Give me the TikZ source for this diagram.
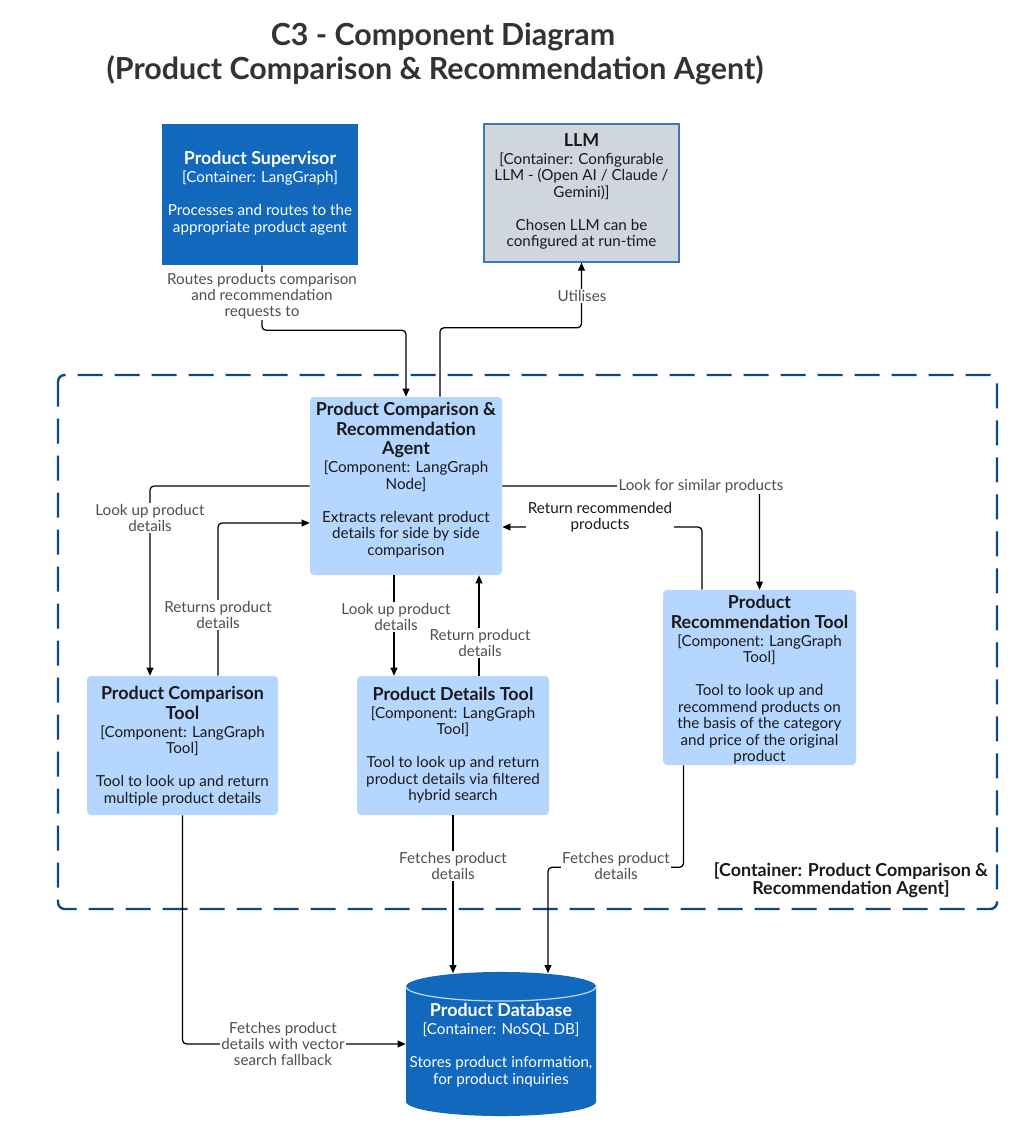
\documentclass[tikz,border=0pt]{standalone}
\usepackage{fontspec}
\setmainfont{Lato}
\usetikzlibrary{arrows.meta,calc,fit}
\definecolor{c4blue}{HTML}{1168BD}
\definecolor{c4light}{HTML}{B4D6FF}
\definecolor{llmgrey}{HTML}{CFD6DE}
\definecolor{llmedge}{HTML}{3C78B8}
\definecolor{bnd}{HTML}{0B4884}
\definecolor{lblgrey}{HTML}{4F4F4F}
\definecolor{txtdark}{HTML}{1A1A1A}
\definecolor{titlegrey}{HTML}{333333}
\newcommand\nm[1]{{\fontsize{13.4}{14.6}\selectfont\bfseries #1}}
\begin{document}
\begin{tikzpicture}[x=0.75pt,y=-0.75pt,
  boxsup/.style={fill=c4blue, inner sep=0pt},
  boxllm/.style={fill=llmgrey, draw=llmedge, line width=0.8pt, inner sep=0pt},
  boxcomp/.style={fill=c4light, rounded corners=3pt, inner sep=0pt},
  txt/.style={align=center, inner sep=0pt, font=\fontsize{11.4}{12.4}\selectfont, text=txtdark},
  txtw/.style={txt, text=white},
  lbl/.style={align=center, inner sep=1pt, fill=white, text=lblgrey, font=\fontsize{11.4}{12}\selectfont},
  conn/.style={draw=black, line width=0.95pt, rounded corners=3pt, -{Triangle[length=6pt,width=5pt]}},
  boundary/.style={draw=bnd, line width=1.8pt, dash pattern=on 18.75pt off 9pt, rounded corners=5pt},
  ttl/.style={inner sep=0pt, text=titlegrey, font=\fontsize{22.8}{26}\selectfont\bfseries}
]
\useasboundingbox (0,0) rectangle (1027,1124);
\fill[white] (0,0) rectangle (1027,1124);

% title
\node[ttl] (t1) at (443,37) {C3 - Component Diagram};
\node[ttl] (t2) at (435,70) {(Product Comparison \& Recommendation Agent)};

% boundary
\draw[boundary] (58,375) rectangle (997,909);
\node[align=center, inner sep=0pt, text=txtdark, font=\fontsize{13.4}{13.5}\selectfont\bfseries] (bl) at (851,880)
  {[Container: Product Comparison \&\\ Recommendation Agent]};

% boxes
\node[boxsup, fit={(162,124)(358,265)}] (sup) {};
\node[boxllm, fit={(484,124)(679,262)}] (llm) {};
\node[boxcomp, fit={(310,397)(502,575)}] (agent) {};
\node[boxcomp, fit={(87,676)(278,815)}] (comp) {};
\node[boxcomp, fit={(357,676)(549,815)}] (details) {};
\node[boxcomp, fit={(663,590)(856,765)}] (rec) {};
\node[inner sep=0pt, fit={(406,972)(596,1116)}] (db) {};

% cylinder
\fill[c4blue] (406,986.5) -- (406,1101.5) arc[start angle=180,end angle=360,x radius=71.25pt,y radius=10.9pt]
  -- (596,986.5) arc[start angle=0,end angle=180,x radius=71.25pt,y radius=10.9pt] -- cycle;
\draw[white!75!c4blue, line width=0.9pt] (406,986.5) arc[start angle=180,end angle=360,x radius=71.25pt,y radius=10.9pt];

% box texts
\node[txtw] (supt) at (260,193) {\nm{Product Supervisor}\\[1.1pt] [Container: LangGraph]\\[12.4pt] Processes and routes to the\\ appropriate product agent};
\node[txt] (llmt) at (581.5,191.5) {\nm{LLM}\\[1.1pt] [Container: Configurable\\ LLM - (Open AI / Claude /\\ Gemini)]\\[12.4pt] Chosen LLM can be\\ configured at run-time};
\node[txt] (agentt) at (406,480) {\nm{Product Comparison \&}\\[2.2pt] \nm{Recommendation}\\[2.2pt] \nm{Agent}\\[1.1pt] [Component: LangGraph\\ Node]\\[12.4pt] Extracts relevant product\\ details for side by side\\ comparison};
\node[txt] (compt) at (182.5,746) {\nm{Product Comparison}\\[2.2pt] \nm{Tool}\\[1.1pt] [Component: LangGraph\\ Tool]\\[12.4pt] Tool to look up and return\\ multiple product details};
\node[txt] (detailst) at (453,745) {\nm{Product Details Tool}\\[1.1pt] [Component: LangGraph\\ Tool]\\[12.4pt] Tool to look up and return\\ product details via filtered\\ hybrid search};
\node[txt] (rect) at (759.5,680) {\nm{Product}\\[2.2pt] \nm{Recommendation Tool}\\[1.1pt] [Component: LangGraph\\ Tool]\\[12.4pt] Tool to look up and\\ recommend products on\\ the basis of the category\\ and price of the original\\ product};
\node[txtw] (dbt) at (501,1045) {\nm{Product Database}\\[1.1pt] [Container: NoSQL DB]\\[12.4pt] Stores product information,\\ for product inquiries};

% connectors
\draw[conn] (sup.south) ++(2,0) coordinate (s1) -- ($(s1)+(0,65)$) -| (agent.north);
\draw[conn] (agent.north) ++(34,0) coordinate (g1) -- ($(g1)+(0,-69)$) -| (llm.south);
\draw[conn] (agent.west) -| ($(comp.north)+(-32.5,0)$);
\draw[conn] ($(comp.north)+(35.5,0)$) |- ($(agent.west)+(0,37)$);
\draw[conn] ($(agent.south)+(-12,0)$) coordinate (d1) -- (d1 |- details.north);
\draw[conn] ($(details.north)+(26,0)$) coordinate (d2) -- (d2 |- agent.south);
\draw[conn] (agent.east) -| (rec.north);
\draw[conn] ($(rec.north)+(-57.5,0)$) |- ($(agent.east)+(0,41)$);
\draw[conn] (details.south) -- ($(details.south |- db.north)+(0,1.5)$);
\draw[conn] ($(rec.south)+(-76,0)$) coordinate (r1) -- ($(r1)+(0,102)$) -| ($(db.north)+(47,1.5)$);
\draw[conn] (comp.south) |- (db.west);

% labels
\node[lbl] (l1) at (262,296) {Routes products comparison\\ and recommendation\\ requests to};
\node[lbl] (l2) at (582,296) {Utilises};
\node[lbl] (l3) at (150,518) {Look up product\\ details};
\node[lbl] (l4) at (218,615) {Returns product\\ details};
\node[lbl] (l5) at (396,617) {Look up product\\ details};
\node[lbl] (l6) at (480,643) {Return product\\ details};
\node[lbl] (l7) at (701,486) {Look for similar products};
\node[lbl, text=txtdark] (l8) at (600,517) {Return recommended\\ products};
\node[lbl] (l9) at (453,866) {Fetches product\\ details};
\node[lbl] (l10) at (616,866) {Fetches product\\ details};
\node[lbl] (l11) at (283,1044) {Fetches product\\ details with vector\\ search fallback};
\end{tikzpicture}
\end{document}
